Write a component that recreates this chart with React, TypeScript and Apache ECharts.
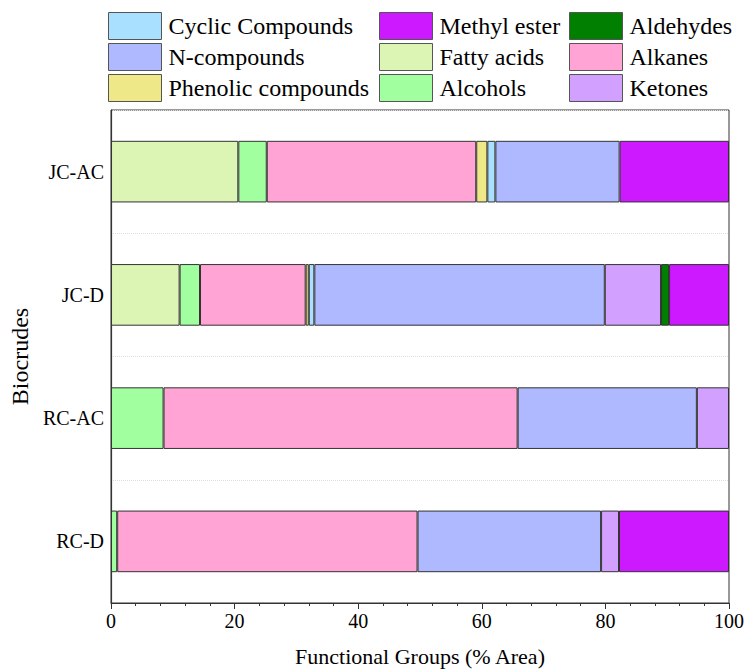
import React, { useEffect, useRef } from "react";
import * as echarts from "echarts";

const categories = ["JC-AC", "JC-D", "RC-AC", "RC-D"];
const fattyAcids = [20.6, 11.1, null, null];
const alcohols = [4.6, 3.3, 8.5, 1.0];
const alkanes = [33.9, 17.1, 57.3, 48.6];
const phenolic = [1.8, 0.5, null, null];
const cyclic = [1.3, 0.9, null, null];
const nCompounds = [20.1, 47.0, 29.0, 29.7];
const ketones = [null, 9.1, 5.2, 2.9];
const aldehydes = [null, 1.3, null, null];
const methylEster = [17.7, 9.7, null, 17.8];

const xTicks = { min: 0, max: 100, interval: 20 };

const FONT = "Liberation Serif";

const seriesDefs = [
  { name: "Fatty acids", data: fattyAcids, color: "#DCF5B4" },
  { name: "Alcohols", data: alcohols, color: "#A2FFA0" },
  { name: "Alkanes", data: alkanes, color: "#FFA4D4" },
  { name: "Phenolic compounds", data: phenolic, color: "#EEE888" },
  { name: "Cyclic Compounds", data: cyclic, color: "#A9DFFF" },
  { name: "N-compounds", data: nCompounds, color: "#AFB9FF" },
  { name: "Ketones", data: ketones, color: "#D2A1FF" },
  { name: "Aldehydes", data: aldehydes, color: "#007F00" },
  { name: "Methyl ester", data: methylEster, color: "#CC19FF" },
];

const legendCols = [
  { left: 108, names: ["Cyclic Compounds", "N-compounds", "Phenolic compounds"] },
  { left: 379, names: ["Methyl ester", "Fatty acids", "Alcohols"] },
  { left: 569, names: ["Aldehydes", "Alkanes", "Ketones"] },
];

export default function App() {
  const ref = useRef<HTMLDivElement>(null);
  useEffect(() => {
    if (!ref.current) return;
    const chart = echarts.init(ref.current, undefined, { renderer: "svg" });
    chart.setOption({
      animation: false,
      backgroundColor: "#fff",
      textStyle: { fontFamily: FONT },
      legend: legendCols.map((c) => ({
        data: c.names,
        orient: "vertical",
        left: c.left,
        top: 12,
        padding: 0,
        itemWidth: 53,
        itemHeight: 27,
        itemGap: 3,
        icon: "rect",
        selectedMode: false,
        itemStyle: { borderColor: "#555", borderWidth: 1 },
        textStyle: {
          fontFamily: FONT,
          fontSize: 24,
          color: "#000",
          lineHeight: 27,
          padding: [0, 0, 0, 2],
        },
      })),
      grid: {
        left: 107,
        right: 17,
        top: 110,
        bottom: 64,
        show: true,
        borderColor: "#333",
        borderWidth: 1,
        backgroundColor: "transparent",
      },
      xAxis: {
        type: "value",
        min: xTicks.min,
        max: xTicks.max,
        interval: xTicks.interval,
        name: "Functional Groups (% Area)",
        nameLocation: "middle",
        nameGap: 42,
        nameTextStyle: { fontFamily: FONT, fontSize: 22, color: "#000" },
        axisLine: { show: true, lineStyle: { color: "#333", width: 1.2 } },
        axisTick: { show: true, length: 6, lineStyle: { color: "#333" } },
        minorTick: { show: true, splitNumber: 5, length: 3, lineStyle: { color: "#333" } },
        splitLine: { show: false },
        axisLabel: { fontFamily: FONT, fontSize: 20, color: "#000", margin: 8 },
      },
      yAxis: {
        type: "category",
        data: categories,
        inverse: true,
        name: "Biocrudes",
        nameLocation: "middle",
        nameGap: 72,
        nameTextStyle: { fontFamily: FONT, fontSize: 24, color: "#000" },
        axisLine: { show: true, lineStyle: { color: "#333", width: 1.2 } },
        axisTick: { show: false },
        splitLine: { show: true, lineStyle: { color: "#ddd", type: "dotted", width: 1 } },
        axisLabel: { fontFamily: FONT, fontSize: 20, color: "#000", margin: 7 },
      },
      series: seriesDefs.map((s) => ({
        name: s.name,
        type: "bar",
        stack: "total",
        barWidth: "50%",
        data: s.data.map((v) => (v === null ? "-" : v)),
        itemStyle: { color: s.color, borderColor: "#333", borderWidth: 1 },
      })),
    });
    return () => chart.dispose();
  }, []);
  return (
    <div
      ref={ref}
      style={{ position: "fixed", left: 0, top: 0, width: 747, height: 672 }}
    />
  );
}
